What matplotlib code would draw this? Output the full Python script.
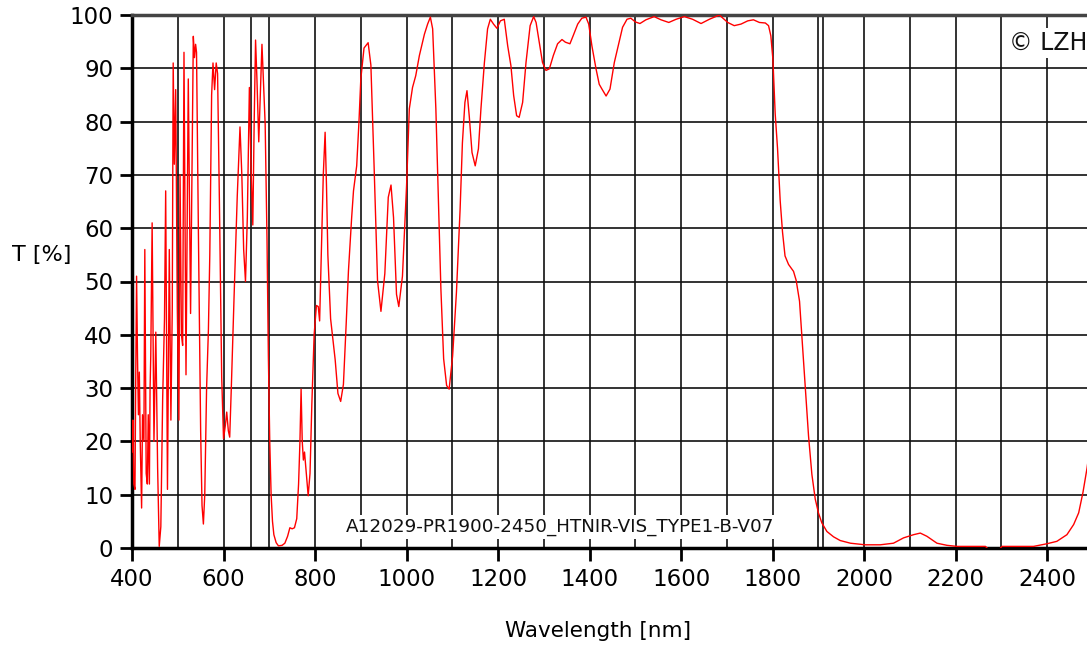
# Transmission spectrum of coating A12029
import matplotlib.pyplot as plt

wavelength = [
    400, 402, 404, 406.5, 408, 410, 412, 414, 416, 418, 421, 423, 426, 428, 431,
    433.5, 435.5, 438, 439.5, 441, 444, 448, 452, 456, 459.5, 463, 467, 471,
    473.6, 477.5, 481.5, 485, 488, 490, 492.5, 495.5, 499, 502.5, 505, 508,
    510.7, 513.6, 518, 523, 528, 531, 534, 536.5, 539, 541, 545, 550, 553, 556,
    559, 563, 567, 570, 574, 577, 580.5, 584, 587, 591, 596, 600, 604, 607,
    610.5, 613.5, 617, 623, 630, 636, 640, 644, 648, 652, 656.5, 660, 664, 667,
    670, 673, 677, 680, 684, 687, 691, 695, 698, 701, 704, 707, 710, 715, 720,
    728, 734, 740, 745, 750, 755, 760, 764, 767, 769.5, 772, 774.5, 777, 781,
    785, 789, 793, 798, 803, 807, 810, 814, 818, 822, 825, 828, 834, 844, 850,
    856, 862, 868, 873, 880, 884, 891, 896, 900, 907, 916, 922, 929, 936.5, 944,
    952.5, 960, 966, 971.5, 978, 983, 991, 1000, 1006, 1013, 1020, 1028, 1039,
    1046, 1052, 1057, 1064, 1070, 1075, 1081, 1087.5, 1093, 1100.6, 1109, 1117,
    1122, 1127.5, 1132, 1137, 1143, 1150, 1157, 1162.5, 1170, 1177, 1183, 1190,
    1197.5, 1205, 1213.5, 1221, 1228, 1234, 1240.5, 1246, 1253.6, 1261, 1270,
    1277.7, 1283, 1290, 1297, 1304.6, 1312, 1320.7, 1330, 1339.6, 1347, 1357,
    1364, 1374, 1383, 1392, 1398, 1405, 1414, 1421, 1427, 1436, 1444.5, 1454,
    1463.5, 1472, 1481.7, 1490, 1500, 1510, 1523, 1541, 1556, 1573, 1589, 1607,
    1625, 1643.5, 1661.7, 1683.5, 1701.8, 1716, 1731, 1745.5, 1758, 1771, 1784,
    1791, 1796, 1800.5, 1805.5, 1810.6, 1816.4, 1821.5, 1827, 1834.7, 1845.6,
    1851.4, 1858.7, 1863.8, 1871, 1878.4, 1885.7, 1893, 1900, 1907.5, 1918.5,
    1933, 1947.6, 1970, 2002, 2035, 2064, 2086, 2108, 2122.6, 2137, 2159, 2181,
    2203, 2265, 2272, 2295, 2301, 2370, 2399.5, 2421, 2443, 2457.7, 2468.7,
    2478, 2487, 2495,
]
transmission = [
    18, 24, 12, 11, 30, 51, 36, 25, 33, 20, 7.5, 25, 20, 56, 14,
    12, 25, 12, 30, 36, 61, 20, 40.5, 15, 0.3, 4, 28, 43,
    67, 11, 56, 24, 45, 91, 72, 86, 45, 24, 70, 40,
    38, 93, 32.5, 88, 44, 70, 96, 92, 94.5, 93, 60, 22, 8, 4.5,
    10, 30, 41, 55, 85, 91, 86, 91, 89, 65, 32, 20.5, 23, 25.5,
    22, 20.8, 30, 47, 66, 79, 70, 56, 50, 62, 86.4, 72, 60.6, 80,
    95.3, 88, 76.2, 84, 94.5, 88, 79.5, 58, 36, 20, 10, 5, 2.5, 1, 0.4,
    0.5, 0.9, 2.2, 3.8, 3.6, 3.8, 5.5, 12, 20, 29.8, 20, 16.5, 18, 14,
    9.8, 14, 27, 40, 45.5, 45.3, 42.6, 56, 70, 78, 68, 55, 43, 35.3, 29,
    27.5, 30.7, 42, 52, 62, 67, 71.7, 80, 88, 93.8, 94.8, 90.6, 71.7, 50.2, 44.4,
    51.5, 65.8, 68.1, 62, 47.6, 45.3, 51, 68, 82.4, 86.4, 88.6, 92.4, 96.4,
    98.3, 99.6, 97.4, 82.4, 64.2, 48.6, 35.5, 30.5, 29.8, 36, 48, 63.6,
    76, 83.6, 85.8, 81, 74.2, 71.7, 74.9, 82.4, 91, 97.4, 99.2, 98.3,
    97.5, 98.9, 99.2, 94.2, 90.5, 84.9, 81.1, 80.8, 83.6, 91.1, 98,
    99.7, 98.6, 94.9, 91.1, 89.6, 89.9, 92.4, 94.6, 95.4, 94.9, 94.6,
    96.1, 98.3, 99.4, 99.6, 98.3, 94.2, 89.9, 87, 86.1, 84.8, 86.1, 91.1,
    94.6, 97.7, 99.2, 99.4, 98.7, 98.4, 99.1, 99.7, 99.1, 98.6, 99.2, 99.7,
    99.2, 98.4, 99.2, 100, 98.6, 98, 98.3, 98.9, 99.1, 98.6, 98.5,
    98, 96.1, 91.7, 81.5, 75, 65.2, 59.3, 54.8, 53.2, 51.9,
    50.2, 46.3, 39.8, 30.7, 21, 13.8, 9.2, 6.6, 4.7, 3.1,
    2.1, 1.4, 0.9, 0.6, 0.6, 0.9, 1.9, 2.5, 2.8, 2.2, 0.9, 0.5,
    0.3, 0.3, -0.3, -0.3, 0.3, 0.3, 0.8, 1.25, 2.5, 4.4, 6.6,
    10.4, 15, 20,
]

x_major = list(range(400, 2500, 200))
x_grid = list(range(400, 2500, 100))
extra_lines = [660, 1910]
y_ticks = list(range(0, 101, 10))

sample_name = 'A12029-PR1900-2450_HTNIR-VIS_TYPE1-B-V07'

plt.rcParams['font.family'] = ['DejaVu Sans']

fig = plt.figure(figsize=(10.87, 6.46), dpi=100)
# axes run slightly past the right edge, like the cropped original
ax = fig.add_axes([132 / 1087, 98 / 646, 961 / 1087, 533 / 646])
ax.set_xlim(400, 2500)
ax.set_ylim(0, 100)

ax.set_xticks(x_major)
ax.set_xticks(x_grid, minor=True)
ax.set_yticks(y_ticks)
ax.grid(True, which='both', color='#111111', linewidth=1.2, zorder=1)
for xv in extra_lines:
    ax.axvline(xv, color='#111111', linewidth=1.2, zorder=1)

ax.plot(wavelength, transmission, color='#ff0000', linewidth=1.0, zorder=3)

ax.tick_params(axis='x', which='major', direction='out', length=9.5, width=2,
               pad=5, labelsize=16.5, colors='black')
ax.tick_params(axis='x', which='minor', length=0)
ax.tick_params(axis='y', direction='out', length=8.5, width=2, pad=5,
               labelsize=16.5, colors='black')

for side in ['left', 'bottom']:
    ax.spines[side].set_linewidth(2.5)
    ax.spines[side].set_color('black')
ax.spines['top'].set_linewidth(2.5)
ax.spines['top'].set_color('#444444')
ax.spines['right'].set_visible(False)

ax.text(0.445, 0.039, sample_name, transform=ax.transAxes, fontsize=13.2,
        ha='center', va='center', color='#111111', zorder=2,
        bbox=dict(facecolor='white', edgecolor='none', pad=2))
fig.text(1087 / 1087, 1 - 43 / 646, '\u00a9 LZH', fontsize=17, ha='right',
         va='center', color='#111111', zorder=5,
         bbox=dict(facecolor='white', edgecolor='none', pad=2))

fig.text(12 / 1087, 1 - 255 / 646, 'T [%]', fontsize=16, ha='left', va='center')
fig.text(598 / 1087, 1 - 631 / 646, 'Wavelength [nm]', fontsize=15.5,
         ha='center', va='center')

fig.savefig('out.png', dpi=100)
